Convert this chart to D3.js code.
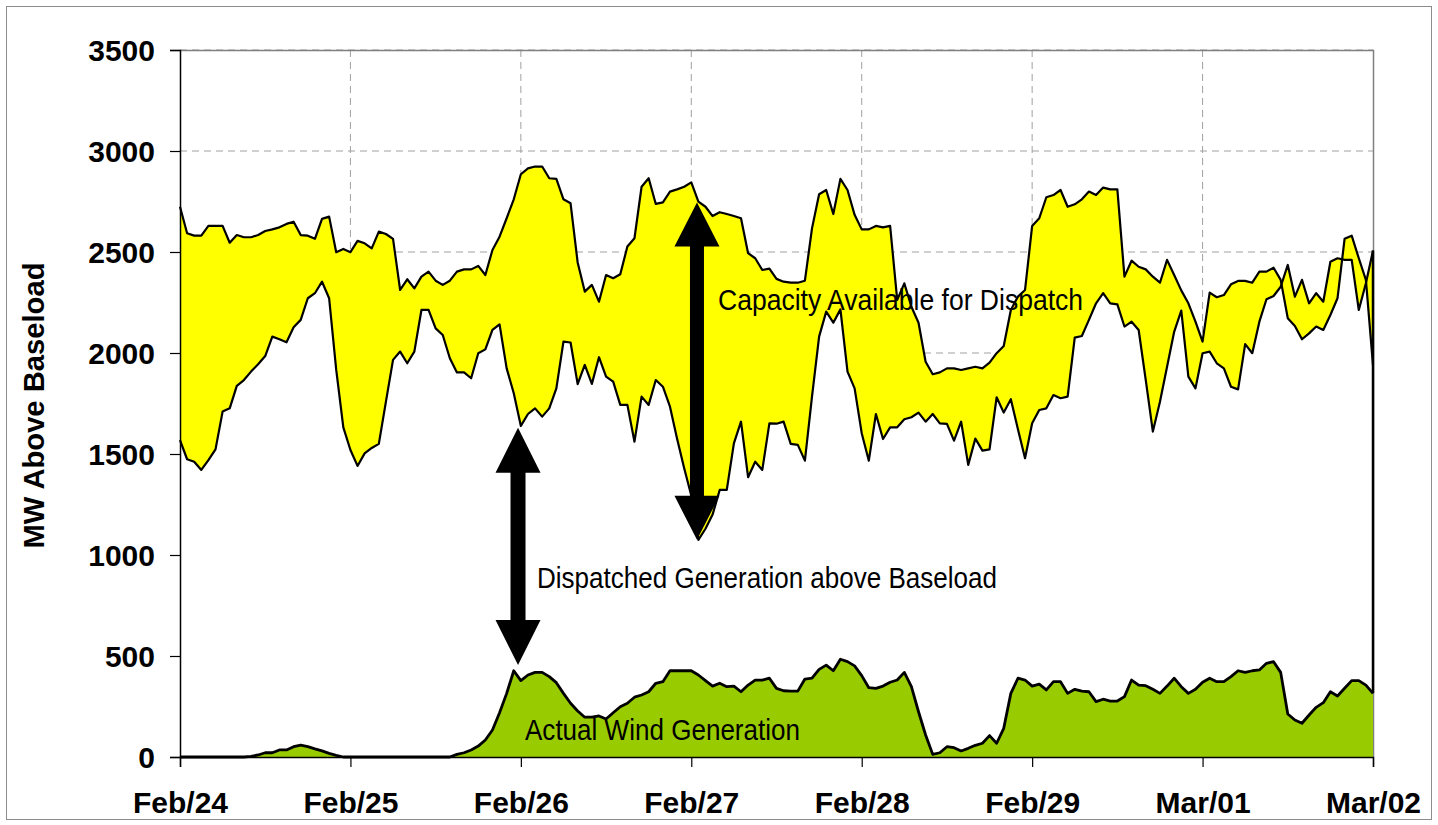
<!DOCTYPE html>
<html>
<head>
<meta charset="utf-8">
<script src="https://cdn.jsdelivr.net/npm/d3@7"></script>
<style>
  body { margin: 0; background: #fff; }
  svg { display: block; }
  text { font-family: "Liberation Sans", Arial, sans-serif; }
</style>
</head>
<body>
<script>
// hourly values, Feb/24 00:00 to Mar/02 00:00 (169 points)
var dayLabels = ["Feb/24", "Feb/25", "Feb/26", "Feb/27", "Feb/28", "Feb/29", "Mar/01", "Mar/02"];
var yTicks = [0, 500, 1000, 1500, 2000, 2500, 3000, 3500];

// top of the yellow band: capacity available
var capacity = [
  2724, 2593, 2581, 2581, 2629, 2629, 2629, 2546, 2584, 2573, 2573, 2584, 2604, 2612, 2622, 2639, 2650, 2584, 2581, 2565, 2664, 2675, 2499, 2515,
  2499, 2555, 2543, 2518, 2601, 2589, 2565, 2312, 2365, 2320, 2378, 2403, 2358, 2337, 2358, 2403, 2414, 2414, 2431, 2386, 2510, 2576, 2667, 2761,
  2885, 2914, 2923, 2923, 2865, 2862, 2761, 2741, 2448, 2304, 2337, 2254, 2386, 2370, 2390, 2527, 2568, 2823, 2865, 2738, 2746, 2799, 2810, 2823,
  2845, 2749, 2724, 2678, 2697, 2688, 2678, 2667, 2494, 2469, 2411, 2418, 2367, 2353, 2348, 2348, 2358, 2617, 2786, 2807, 2688, 2862, 2807, 2684,
  2612, 2612, 2629, 2622, 2629, 2263, 2345, 2229, 2150, 1957, 1895, 1904, 1924, 1924, 1916, 1924, 1932, 1924, 1952, 1999, 2035, 2213, 2279, 2312,
  2629, 2667, 2771, 2782, 2807, 2724, 2736, 2761, 2799, 2782, 2819, 2810, 2810, 2378, 2457, 2427, 2414, 2378, 2348, 2461, 2386, 2310, 2246, 2155,
  2056, 2299, 2276, 2287, 2340, 2357, 2357, 2348, 2403, 2403, 2422, 2362, 2172, 2134, 2068, 2097, 2131, 2114, 2188, 2271, 2565, 2581, 2469, 2362,
  1940
];

// bottom of the yellow band: dispatched generation above baseload
var dispatched = [
  1569, 1474, 1462, 1421, 1470, 1523, 1710, 1726, 1837, 1866, 1908, 1944, 1985, 2081, 2068, 2053, 2127, 2164, 2271, 2296, 2353, 2271, 1916, 1632,
  1520, 1441, 1503, 1530, 1550, 1759, 1966, 2007, 1949, 2007, 2213, 2213, 2122, 2089, 1974, 1904, 1904, 1875, 1999, 2018, 2114, 2142, 1924, 1801,
  1639, 1698, 1726, 1685, 1726, 1825, 2056, 2052, 1846, 1941, 1847, 1979, 1883, 1858, 1743, 1743, 1561, 1784, 1743, 1866, 1833, 1734, 1575, 1430,
  1295, 1075, 1130, 1200, 1322, 1322, 1553, 1660, 1385, 1462, 1421, 1652, 1650, 1660, 1550, 1545, 1467, 1784, 2081, 2205, 2150, 2216, 1908, 1825,
  1603, 1467, 1698, 1574, 1632, 1632, 1672, 1682, 1705, 1660, 1698, 1652, 1649, 1566, 1660, 1446, 1576, 1517, 1523, 1781, 1705, 1771, 1622, 1479,
  1652, 1718, 1726, 1792, 1776, 1784, 2076, 2084, 2164, 2246, 2296, 2246, 2241, 2131, 2155, 2114, 1866, 1611, 1759, 1932, 2105, 2210, 1883, 1825,
  1999, 2007, 1949, 1924, 1833, 1820, 2044, 1999, 2155, 2266, 2282, 2328, 2436, 2279, 2362, 2246, 2296, 2254, 2452, 2469, 2461, 2461, 2213, 2345,
  2507
];

// actual wind generation
var wind = [
  0, 0, 0, 0, 0, 0, 0, 0, 0, 0, 3, 10, 21, 21, 35, 35, 51, 59, 51, 40, 30, 18, 8, 0,
  0, 0, 0, 0, 0, 0, 0, 0, 0, 0, 0, 0, 0, 0, 0, 13, 21, 35, 54, 84, 134, 219, 315, 427,
  378, 406, 419, 419, 398, 368, 315, 266, 228, 197, 197, 203, 188, 219, 249, 266, 296, 307, 323, 365, 373, 427, 427, 427,
  427, 406, 378, 351, 365, 348, 351, 323, 356, 381, 381, 390, 340, 328, 326, 326, 386, 390, 434, 455, 427, 484, 472, 451,
  403, 343, 340, 351, 370, 381, 419, 348, 224, 109, 13, 21, 51, 46, 30, 43, 58, 68, 106, 68, 142, 315, 390, 381,
  351, 361, 332, 373, 373, 315, 335, 326, 323, 274, 286, 277, 277, 299, 381, 356, 353, 335, 315, 351, 390, 348, 315, 335,
  370, 390, 373, 373, 398, 427, 419, 427, 431, 464, 472, 419, 213, 183, 167, 208, 246, 269, 323, 302, 340, 378, 378, 356,
  315
];

var W = 1438, H = 825;
var plotL = 180, plotR = 1373, plotT = 50, plotB = 757;

var svg = d3.select("body").append("svg")
  .attr("width", W)
  .attr("height", H);

// outer chart border
svg.append("rect")
  .attr("x", 6.5).attr("y", 6.5)
  .attr("width", W - 13).attr("height", H - 12)
  .attr("fill", "none").attr("stroke", "#8c8c8c").attr("stroke-width", 1);

var x = d3.scaleLinear().domain([0, capacity.length - 1]).range([plotL, plotR]);
var y = d3.scaleLinear().domain([0, 3500]).range([plotB, plotT]);
var dayIdx = dayLabels.map(function(d, i) { return i * 24; });

// dashed grid
svg.append("g").selectAll("line")
  .data(yTicks.filter(function(v) { return v > 0; }))
  .enter().append("line")
  .attr("x1", plotL).attr("x2", plotR)
  .attr("y1", function(d) { return y(d); }).attr("y2", function(d) { return y(d); })
  .attr("stroke", "#a0a0a0").attr("stroke-dasharray", "7,5");
svg.append("g").selectAll("line")
  .data(dayIdx.slice(1, -1))
  .enter().append("line")
  .attr("y1", plotT).attr("y2", plotB)
  .attr("x1", function(d) { return x(d); }).attr("x2", function(d) { return x(d); })
  .attr("stroke", "#a0a0a0").attr("stroke-dasharray", "7,5");

// plot area border (right, top)
svg.append("path")
  .attr("d", "M" + plotL + "," + (plotT + 0.5) + "H" + (plotR + 0.5) + "V" + plotB)
  .attr("fill", "none").attr("stroke", "#808080").attr("stroke-width", 1.5);

var hrs = d3.range(capacity.length);

// white area hides the grid under the band
svg.append("path")
  .datum(hrs)
  .attr("fill", "#fff")
  .attr("d", d3.area()
    .x(function(i) { return x(i); })
    .y0(y(0))
    .y1(function(i) { return y(Math.max(capacity[i], dispatched[i])); }));

// yellow band
svg.append("path")
  .datum(hrs)
  .attr("fill", "#ffff00")
  .attr("d", d3.area()
    .x(function(i) { return x(i); })
    .y0(function(i) { return y(dispatched[i]); })
    .y1(function(i) { return y(capacity[i]); }));

// wind
svg.append("path")
  .datum(hrs)
  .attr("fill", "#99cc00")
  .attr("d", d3.area()
    .x(function(i) { return x(i); })
    .y0(y(0))
    .y1(function(i) { return y(wind[i]); }));

function lineOf(arr) {
  return d3.line().x(function(i) { return x(i); }).y(function(i) { return y(arr[i]); });
}
[capacity, dispatched].forEach(function(arr) {
  svg.append("path")
    .datum(hrs)
    .attr("fill", "none").attr("stroke", "#000").attr("stroke-width", 2.2)
    .attr("stroke-linejoin", "round")
    .attr("d", lineOf(arr));
});
svg.append("path")
  .datum(hrs)
  .attr("fill", "none").attr("stroke", "#000").attr("stroke-width", 2.8)
  .attr("stroke-linejoin", "round")
  .attr("d", lineOf(wind));

// right edge of the stacked areas
var last = hrs.length - 1;
svg.append("line")
  .attr("x1", x(last)).attr("x2", x(last))
  .attr("y1", y(Math.max(capacity[last], dispatched[last])))
  .attr("y2", y(wind[last]))
  .attr("stroke", "#000").attr("stroke-width", 2.5);

// axes
var yAxis = svg.append("g")
  .attr("transform", "translate(" + plotL + ",0)")
  .call(d3.axisLeft(y).tickValues(yTicks).tickSize(10).tickPadding(15)
    .tickFormat(d3.format("d")));
var xAxis = svg.append("g")
  .attr("transform", "translate(0," + plotB + ")")
  .call(d3.axisBottom(x).tickValues(dayIdx).tickSize(10).tickPadding(25)
    .tickFormat(function(d, i) { return dayLabels[i]; }));
[yAxis, xAxis].forEach(function(g) {
  g.select(".domain").attr("stroke", "#000").attr("stroke-width", 1.5);
  g.selectAll(".tick line").attr("stroke", "#000").attr("stroke-width", 1.2);
  g.selectAll("text")
    .attr("fill", "#000")
    .style("font-family", "'Liberation Sans', Arial, sans-serif")
    .style("font-weight", "bold")
    .style("font-size", "30px");
});
yAxis.selectAll("text").attr("dy", "0.36em");
xAxis.selectAll("text").attr("dy", "0.71em");

svg.append("text")
  .attr("transform", "translate(44," + ((plotT + plotB) / 2 + 2) + ") rotate(-90)")
  .attr("text-anchor", "middle")
  .style("font-weight", "bold").style("font-size", "29px")
  .attr("textLength", 286).attr("lengthAdjust", "spacingAndGlyphs")
  .text("MW Above Baseload");

// double headed arrows
function arrow(cx, v1, v2, headLen, headW, shaftW) {
  var y1 = y(v1), y2 = y(v2), hw = headW / 2, sw = shaftW / 2;
  return "M" + cx + "," + y1 +
    "L" + (cx + hw) + "," + (y1 + headLen) +
    "L" + (cx + sw) + "," + (y1 + headLen) +
    "L" + (cx + sw) + "," + (y2 - headLen) +
    "L" + (cx + hw) + "," + (y2 - headLen) +
    "L" + cx + "," + y2 +
    "L" + (cx - hw) + "," + (y2 - headLen) +
    "L" + (cx - sw) + "," + (y2 - headLen) +
    "L" + (cx - sw) + "," + (y1 + headLen) +
    "L" + (cx - hw) + "," + (y1 + headLen) + "Z";
}
svg.append("path").attr("fill", "#000")
  .attr("d", arrow(x(72.8), 2745, 1075, 44, 45, 14));
svg.append("path").attr("fill", "#000")
  .attr("d", arrow(x(47.6), 1630, 455, 45, 45, 15));

// labels
function note(txt, px, py, len) {
  svg.append("text")
    .attr("x", px).attr("y", py)
    .style("font-size", "29px")
    .attr("textLength", len).attr("lengthAdjust", "spacingAndGlyphs")
    .text(txt);
}
note("Capacity Available for Dispatch", 718, 310, 365);
note("Dispatched Generation above Baseload", 537, 588, 460);
note("Actual Wind Generation", 525, 740, 275);
</script>
</body>
</html>
